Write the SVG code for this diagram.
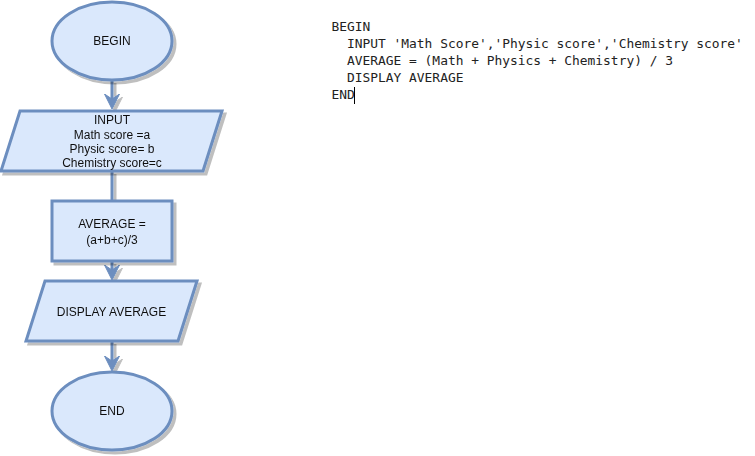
<svg xmlns="http://www.w3.org/2000/svg" width="755" height="456" viewBox="0 0 755 456">
<style>
.shape{fill:#dae8fc;stroke:#6c8ebf;stroke-width:3}
.lbl{font-family:"Liberation Sans",Arial,sans-serif;font-size:12px;fill:#111;text-anchor:middle}
.conn{stroke:#6c8ebf;stroke-width:3;fill:none}
.code{font-family:"DejaVu Sans Mono","Liberation Mono",monospace;font-size:12.9px;fill:#222;white-space:pre}
</style>
<defs>
<filter id="shadow" filterUnits="userSpaceOnUse" x="0" y="0" width="755" height="456">
<feOffset in="SourceAlpha" dx="3" dy="3" result="o"/>
<feFlood flood-color="#000" flood-opacity="0.25"/>
<feComposite in2="o" operator="in" result="s"/>
<feMerge><feMergeNode in="s"/><feMergeNode in="SourceGraphic"/></feMerge>
</filter>
<marker id="arrow" markerUnits="userSpaceOnUse" markerWidth="16" markerHeight="16" refX="5" refY="7.5" orient="auto">
<path d="M0,0 L15,7.5 L0,15 L5,7.5 Z" fill="#6c8ebf" stroke="#6c8ebf" stroke-width="1"/>
</marker>
</defs>
<rect width="755" height="456" fill="#fff"/>
<g id="connectors" filter="url(#shadow)">
<line class="conn" x1="112" y1="80" x2="112" y2="99" marker-end="url(#arrow)"/>
<line class="conn" x1="112" y1="171" x2="112" y2="201"/>
<line class="conn" x1="112" y1="261" x2="112" y2="270" marker-end="url(#arrow)"/>
<line class="conn" x1="112" y1="341" x2="112" y2="361" marker-end="url(#arrow)"/>
</g>
<g id="begin" filter="url(#shadow)">
<ellipse class="shape" cx="112" cy="41" rx="60" ry="39"/>
<text class="lbl" x="112" y="45">BEGIN</text>
</g>
<g id="input" filter="url(#shadow)">
<polygon class="shape" points="20,111 222,111 203,171 1,171"/>
<text class="lbl" x="112" y="124">INPUT</text>
<text class="lbl" x="112" y="138.5">Math score =a</text>
<text class="lbl" x="112" y="152.5">Physic score= b</text>
<text class="lbl" x="112" y="166.5">Chemistry score=c</text>
</g>
<g id="average" filter="url(#shadow)">
<rect class="shape" x="52" y="201" width="120" height="60"/>
<text class="lbl" x="112" y="228">AVERAGE =</text>
<text class="lbl" x="112" y="244">(a+b+c)/3</text>
</g>
<g id="display" filter="url(#shadow)">
<polygon class="shape" points="45,281 197,281 178,341 26,341"/>
<text class="lbl" x="111.5" y="315.5">DISPLAY AVERAGE</text>
</g>
<g id="end" filter="url(#shadow)">
<ellipse class="shape" cx="112" cy="411" rx="60" ry="39"/>
<text class="lbl" x="112" y="415">END</text>
</g>
<g id="pseudocode">
<text class="code" x="331.5" y="30.5">BEGIN</text>
<text class="code" x="347" y="47.5">INPUT 'Math Score','Physic score','Chemistry score'</text>
<text class="code" x="347" y="64.5">AVERAGE = (Math + Physics + Chemistry) / 3</text>
<text class="code" x="347" y="81.5">DISPLAY AVERAGE</text>
<text class="code" x="331.5" y="98.5">END</text>
<line x1="354.5" y1="87" x2="354.5" y2="104" stroke="#000" stroke-width="1"/>
</g>
</svg>
